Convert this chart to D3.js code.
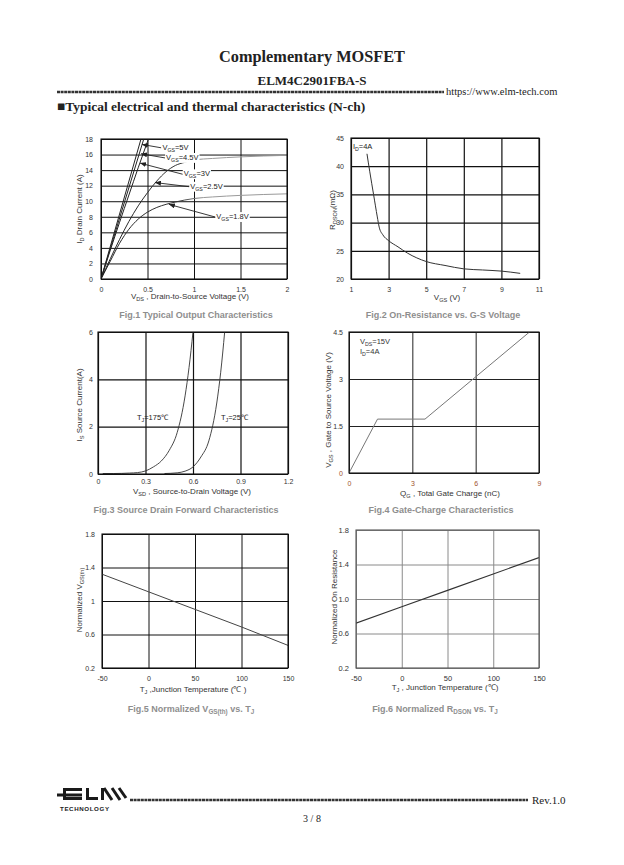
<!DOCTYPE html>
<html><head><meta charset="utf-8">
<script src="https://cdn.jsdelivr.net/npm/d3@7/dist/d3.min.js"></script>
<style>body{margin:0;background:#fff}svg{display:block}</style>
</head><body>
<svg id="c" width="624" height="865"></svg>
<script>
// ---------------- DATA ----------------
// Fig.1 output characteristics (VDS V, ID A)
const f1Vgs5X = [0, 0.43];            const f1Vgs5Y = [0, 18];
const f1Vgs45X = [0, 0.46];           const f1Vgs45Y = [0, 18];
const f1Vgs3X = [0, 0.1, 0.2, 0.3, 0.4, 0.51];
const f1Vgs3Y = [0, 3.7, 7.3, 10.8, 14.3, 18];
const f1Vgs25X = [0, 0.1, 0.2, 0.3, 0.4, 0.5, 0.6, 0.7, 0.8, 0.9, 1.0, 1.2, 1.5, 2.0];
const f1Vgs25Y = [0, 2.6, 5.1, 7.4, 9.4, 11.1, 12.6, 13.8, 14.6, 15.0, 15.3, 15.5, 15.7, 15.9];
const f1Vgs18X = [0, 0.1, 0.2, 0.3, 0.4, 0.5, 0.6, 0.7, 0.8, 1.0, 1.2, 1.5, 2.0];
const f1Vgs18Y = [0, 2.3, 4.6, 6.4, 7.7, 8.6, 9.2, 9.6, 9.9, 10.35, 10.55, 10.75, 10.95];
const f1Labels = ["V_{GS}=5V", "V_{GS}=4.5V", "V_{GS}=3V", "V_{GS}=2.5V", "V_{GS}=1.8V"];
const f1LabelX = [0.66, 0.70, 0.89, 0.96, 1.24];
const f1LabelY = [16.6, 15.3, 13.2, 11.6, 7.7];
const f1TipX = [0.44, 0.43, 0.42, 0.58, 0.73];
const f1TipY = [17.3, 16.1, 14.9, 12.4, 9.6];
const f1XTicks = [0, 0.5, 1, 1.5, 2];
const f1YTicks = [0, 2, 4, 6, 8, 10, 12, 14, 16, 18];

// Fig.2 RDSON vs VGS
const f2X = [1.85, 2.0, 2.2, 2.4, 2.5, 2.7, 3.0, 3.5, 4, 5, 6, 7, 8, 9, 10];
const f2Y = [42.2, 39, 35, 31, 29.2, 27.8, 26.8, 25.7, 24.6, 23.1, 22.4, 21.8, 21.6, 21.4, 21.0];
const f2XTicks = [1, 3, 5, 7, 9, 11];
const f2YTicks = [20, 25, 30, 35, 40, 45];

// Fig.3 source-drain forward
const f3T175X = [0.03, 0.1, 0.2, 0.25, 0.3, 0.35, 0.4, 0.45, 0.5, 0.55, 0.575, 0.6];
const f3T175Y = [0.02, 0.02, 0.04, 0.06, 0.13, 0.3, 0.55, 1.0, 1.75, 3.3, 4.5, 6.0];
const f3T25X = [0.42, 0.5, 0.55, 0.6, 0.65, 0.7, 0.75, 0.775, 0.8];
const f3T25Y = [0.02, 0.05, 0.12, 0.3, 0.72, 1.4, 3.0, 4.3, 6.0];
const f3XTicks = [0, 0.3, 0.6, 0.9, 1.2];
const f3YTicks = [0, 2, 4, 6];

// Fig.4 gate charge
const f4X = [0, 1.35, 3.6, 8.55];
const f4Y = [0, 1.72, 1.72, 4.5];
const f4XTicks = [0, 3, 6, 9];
const f4YTicks = [0, 1.5, 3, 4.5];

// Fig.5 normalized VGS(th)
const f5X = [-50, 0, 50, 100, 150];
const f5Y = [1.32, 1.11, 0.9, 0.69, 0.47];
// Fig.6 normalized RDSON
const f6X = [-50, 0, 50, 100, 150];
const f6Y = [0.72, 0.91, 1.1, 1.29, 1.48];
const tempTicks = [-50, 0, 50, 100, 150];
const normTicks = [0.2, 0.6, 1.0, 1.4, 1.8];

// ---------------- DRAWING ----------------
const SANS = "'Liberation Sans', Arial, sans-serif";
const SERIF = "'Liberation Serif', 'Times New Roman', serif";
const svg = d3.select('#c');
svg.append('rect').attr('width', 624).attr('height', 865).attr('fill', '#fff');
const defs = svg.append('defs');
defs.append('marker').attr('id', 'arr').attr('markerUnits', 'userSpaceOnUse')
  .attr('markerWidth', 6).attr('markerHeight', 5).attr('refX', 6).attr('refY', 2.5)
  .attr('orient', 'auto')
  .append('path').attr('d', 'M0,0 L6,2.5 L0,5 Z').attr('fill', '#222');

function rich(t, str, fs) {
  const parts = str.split(/(_\{[^}]*\})/);
  let pending = 0;
  parts.forEach(p => {
    if (!p) return;
    if (p.startsWith('_{')) {
      t.append('tspan').attr('font-size', fs * 0.7).attr('dy', fs * 0.25).text(p.slice(2, -1));
      pending = -fs * 0.25;
    } else {
      const s = t.append('tspan').text(p);
      if (pending) { s.attr('dy', pending); pending = 0; }
    }
  });
  return t;
}

function zip(xs, ys) { return xs.map((v, i) => [v, ys[i]]); }

function makeChart(o) {
  const g = svg.append('g');
  const x = d3.scaleLinear().domain(o.xd).range([o.l, o.r]);
  const y = d3.scaleLinear().domain(o.yd).range([o.b, o.t]);
  defs.append('clipPath').attr('id', 'clip' + o.id).append('rect')
    .attr('x', o.l).attr('y', o.t).attr('width', o.r - o.l).attr('height', o.b - o.t);
  const fmt = o.fmt || (d => String(d));
  const xa = g.append('g').attr('transform', `translate(0,${o.b})`)
    .call(d3.axisBottom(x).tickValues(o.xt).tickSize(-(o.b - o.t)).tickPadding(o.xpad || 8).tickFormat(o.xfmt || fmt));
  const ya = g.append('g').attr('transform', `translate(${o.l},0)`)
    .call(d3.axisLeft(y).tickValues(o.yt).tickSize(-(o.r - o.l)).tickPadding(o.ypad || 6).tickFormat(o.yfmt || fmt));
  [xa, ya].forEach(a => {
    a.select('.domain').remove();
    a.selectAll('line').attr('stroke', o.grid || '#111').attr('stroke-width', o.gw || 1);
    a.selectAll('text').attr('font-family', SANS).attr('font-size', o.tfs || 7).attr('fill', o.tickColor || '#333');
  });
  const body = g.append('g').attr('clip-path', `url(#clip${o.id})`);
  const frame = () => g.append('rect').attr('x', o.l).attr('y', o.t).attr('width', o.r - o.l).attr('height', o.b - o.t)
    .attr('fill', 'none').attr('stroke', o.frame || '#111').attr('stroke-width', o.fw || 1.1);
  // axis titles
  rich(g.append('text').attr('x', o.xtx).attr('y', o.xty).attr('text-anchor', 'middle')
    .attr('font-family', SANS).attr('font-size', 8).attr('fill', '#333'), o.xtitle, 8);
  rich(g.append('text').attr('transform', `translate(${o.ytx},${o.yty}) rotate(-90)`).attr('text-anchor', 'middle')
    .attr('font-family', SANS).attr('font-size', 8).attr('fill', '#333'), o.ytitle, 8);
  rich(g.append('text').attr('x', o.cx).attr('y', o.cy).attr('text-anchor', 'middle')
    .attr('font-family', SANS).attr('font-size', 9).attr('font-weight', 'bold').attr('fill', '#8e8e8e'), o.caption, 9);
  return { g, x, y, body, frame, xa, ya };
}

// ---- Header ----
svg.append('text').attr('x', 312).attr('y', 62).attr('text-anchor', 'middle').attr('font-family', SERIF)
  .attr('font-weight', 'bold').attr('font-size', 16.3).attr('fill', '#222').text('Complementary MOSFET');
svg.append('text').attr('x', 312).attr('y', 85).attr('text-anchor', 'middle').attr('font-family', SERIF)
  .attr('font-weight', 'bold').attr('font-size', 13).attr('fill', '#222').text('ELM4C2901FBA-S');
svg.append('line').attr('x1', 57).attr('x2', 444).attr('y1', 92).attr('y2', 92)
  .attr('stroke', '#333').attr('stroke-width', 2.4).attr('stroke-dasharray', '3 0.6');
svg.append('text').attr('x', 446).attr('y', 95).attr('font-family', SERIF).attr('font-size', 10.5)
  .attr('fill', '#222').text('https://www.elm-tech.com');
svg.append('text').attr('x', 57).attr('y', 111).attr('font-family', SERIF).attr('font-weight', 'bold')
  .attr('font-size', 13.5).attr('fill', '#222').text('■Typical electrical and thermal characteristics (N-ch)');

// ---- Fig.1 ----
{
  const c = makeChart({ id: 1, l: 101, r: 287, t: 139, b: 279, xd: [0, 2], yd: [0, 18], xt: f1XTicks, yt: f1YTicks,
    xpad: 8, ypad: 8, xtx: 190, xty: 299, xtitle: 'V_{DS} , Drain-to-Source Voltage (V)',
    ytx: 82, yty: 209, ytitle: 'I_{D} Drain Current (A)', cx: 196, cy: 318, caption: 'Fig.1 Typical Output Characteristics' });
  const grad = defs.append('linearGradient').attr('id', 'fade1').attr('gradientUnits', 'userSpaceOnUse')
    .attr('x1', c.x(0)).attr('x2', c.x(2)).attr('y1', 0).attr('y2', 0);
  grad.append('stop').attr('offset', 0).attr('stop-color', '#222');
  grad.append('stop').attr('offset', 0.42).attr('stop-color', '#333');
  grad.append('stop').attr('offset', 0.55).attr('stop-color', '#999');
  grad.append('stop').attr('offset', 1).attr('stop-color', '#999');
  const line = d3.line().x(d => c.x(d[0])).y(d => c.y(d[1])).curve(d3.curveMonotoneX);
  const lin = d3.line().x(d => c.x(d[0])).y(d => c.y(d[1]));
  [[f1Vgs5X, f1Vgs5Y], [f1Vgs45X, f1Vgs45Y]].forEach(s =>
    c.body.append('path').attr('d', lin(zip(s[0], s[1]))).attr('fill', 'none').attr('stroke', '#222').attr('stroke-width', 1));
  c.body.append('path').attr('d', line(zip(f1Vgs3X, f1Vgs3Y))).attr('fill', 'none').attr('stroke', '#222').attr('stroke-width', 1);
  [[f1Vgs25X, f1Vgs25Y], [f1Vgs18X, f1Vgs18Y]].forEach(s =>
    c.body.append('path').attr('d', line(zip(s[0], s[1]))).attr('fill', 'none').attr('stroke', 'url(#fade1)').attr('stroke-width', 1));
  f1Labels.forEach((lab, i) => {
    const lg = c.g.append('g');
    const t = rich(lg.append('text').attr('x', c.x(f1LabelX[i])).attr('y', c.y(f1LabelY[i]))
      .attr('font-family', SANS).attr('font-size', 7.5).attr('fill', '#222'), lab, 7.5);
    const bb = t.node().getBBox();
    lg.insert('rect', 'text').attr('x', bb.x - 1).attr('y', bb.y).attr('width', bb.width + 2).attr('height', bb.height)
      .attr('fill', '#fff');
    lg.insert('line', 'rect').attr('x1', bb.x - 1).attr('y1', bb.y + bb.height * 0.5)
      .attr('x2', c.x(f1TipX[i])).attr('y2', c.y(f1TipY[i])).attr('stroke', '#222').attr('stroke-width', 0.9)
      .attr('marker-end', 'url(#arr)');
  });
  c.frame();
}

// ---- Fig.2 ----
{
  const c = makeChart({ id: 2, l: 351, r: 539, t: 138, b: 279, xd: [1, 11], yd: [20, 45], xt: f2XTicks, yt: f2YTicks,
    xpad: 8, ypad: 7, gw: 1.2, xtx: 447, xty: 300, xtitle: 'V_{GS} (V)',
    ytx: 335, yty: 210, ytitle: 'R_{DSON}(mΩ)', cx: 443, cy: 318, caption: 'Fig.2 On-Resistance vs. G-S Voltage' });
  const line = d3.line().x(d => c.x(d[0])).y(d => c.y(d[1])).curve(d3.curveMonotoneX);
  c.body.append('path').attr('d', line(zip(f2X, f2Y))).attr('fill', 'none').attr('stroke', '#333').attr('stroke-width', 1);
  rich(c.g.append('text').attr('x', c.x(1.1)).attr('y', c.y(43.05)).attr('font-family', SANS)
    .attr('font-size', 7.5).attr('fill', '#222'), 'I_{D}=4A', 7.5);
  c.frame();
}

// ---- Fig.3 ----
{
  const c = makeChart({ id: 3, l: 98, r: 288, t: 332, b: 474, xd: [0, 1.2], yd: [0, 6], xt: f3XTicks, yt: f3YTicks,
    xpad: 5, ypad: 5, gw: 1.2, xtx: 192, xty: 494, xtitle: 'V_{SD} , Source-to-Drain Voltage (V)',
    ytx: 82, yty: 405, ytitle: 'I_{S} Source Current(A)', cx: 186, cy: 513, caption: 'Fig.3 Source Drain Forward Characteristics' });
  const line = d3.line().x(d => c.x(d[0])).y(d => c.y(d[1])).curve(d3.curveMonotoneX);
  [[f3T175X, f3T175Y], [f3T25X, f3T25Y]].forEach(s =>
    c.body.append('path').attr('d', line(zip(s[0], s[1]))).attr('fill', 'none').attr('stroke', '#333').attr('stroke-width', 0.9));
  rich(c.g.append('text').attr('x', c.x(0.246)).attr('y', c.y(2.28)).attr('font-family', SANS)
    .attr('font-size', 7.5).attr('fill', '#222'), 'T_{J}=175℃', 7.5);
  rich(c.g.append('text').attr('x', c.x(0.777)).attr('y', c.y(2.28)).attr('font-family', SANS)
    .attr('font-size', 7.5).attr('fill', '#222'), 'T_{J}=25℃', 7.5);
  c.frame();
}

// ---- Fig.4 ----
{
  const c = makeChart({ id: 4, l: 349, r: 539, t: 332, b: 473, xd: [0, 9], yd: [0, 4.5], xt: f4XTicks, yt: f4YTicks,
    xpad: 8, ypad: 6, grid: '#222', xtx: 450, xty: 496, xtitle: 'Q_{G} , Total Gate Charge (nC)',
    ytx: 331, yty: 410, ytitle: 'V_{GS} , Gate to Source Voltage (V)', cx: 441, cy: 513, caption: 'Fig.4 Gate-Charge Characteristics' });
  c.xa.selectAll('text').attr('fill', '#a0522d');
  c.ya.selectAll('text').filter(d => d === 0).attr('fill', '#a0522d');
  const lin = d3.line().x(d => c.x(d[0])).y(d => c.y(d[1]));
  c.body.append('path').attr('d', lin(zip(f4X, f4Y))).attr('fill', 'none').attr('stroke', '#777').attr('stroke-width', 1);
  rich(c.g.append('text').attr('x', c.x(0.52)).attr('y', c.y(4.12)).attr('font-family', SANS)
    .attr('font-size', 7.5).attr('fill', '#333'), 'V_{DS}=15V', 7.5);
  rich(c.g.append('text').attr('x', c.x(0.52)).attr('y', c.y(3.8)).attr('font-family', SANS)
    .attr('font-size', 7.5).attr('fill', '#333'), 'I_{D}=4A', 7.5);
  c.frame();
}

// ---- Fig.5 ----
{
  const c = makeChart({ id: 5, l: 102, r: 288, t: 534, b: 668, xd: [-50, 150], yd: [0.2, 1.8], xt: tempTicks, yt: normTicks,
    xpad: 8, ypad: 7, yfmt: d3.format('~g'), xtx: 193, xty: 692, xtitle: 'T_{J} ,Junction Temperature (℃ )',
    ytx: 82, yty: 600, ytitle: 'Normalized V_{GS(th)}', cx: 191, cy: 712, caption: 'Fig.5 Normalized V_{GS(th)} vs. T_{J}' });
  const lin = d3.line().x(d => c.x(d[0])).y(d => c.y(d[1]));
  c.body.append('path').attr('d', lin(zip(f5X, f5Y))).attr('fill', 'none').attr('stroke', '#444').attr('stroke-width', 1);
  c.frame();
}

// ---- Fig.6 ----
{
  const c = makeChart({ id: 6, l: 356, r: 539, t: 530, b: 668, xd: [-50, 150], yd: [0.2, 1.8], xt: tempTicks, yt: normTicks,
    xpad: 8, ypad: 7, yfmt: d3.format('.1f'), grid: '#8a8a8a', frame: '#555', tfs: 7.5,
    xtx: 445, xty: 690, xtitle: 'T_{J} , Junction Temperature (℃)',
    ytx: 337, yty: 597, ytitle: 'Normalized On Resistance', cx: 435, cy: 712, caption: 'Fig.6 Normalized R_{DSON} vs. T_{J}' });
  const lin = d3.line().x(d => c.x(d[0])).y(d => c.y(d[1]));
  c.body.append('path').attr('d', lin(zip(f6X, f6Y))).attr('fill', 'none').attr('stroke', '#333').attr('stroke-width', 1.1);
  c.frame();
}

// ---- Footer ----
{
  const lg = svg.append('g').attr('fill', '#1a1a1a');
  const rects = [[63, 788, 3, 12], [63, 788, 19, 3], [57, 793.5, 25, 3], [63, 797, 19, 3],
                 [86, 788, 3, 12], [86, 797, 12, 3], [101, 788, 3, 12]];
  rects.forEach(r => lg.append('rect').attr('x', r[0]).attr('y', r[1]).attr('width', r[2]).attr('height', r[3]));
  [[104, 788, 112, 800], [112, 788, 120, 800], [119, 788, 126, 798]].forEach(s =>
    svg.append('line').attr('x1', s[0]).attr('y1', s[1]).attr('x2', s[2]).attr('y2', s[3])
      .attr('stroke', '#1a1a1a').attr('stroke-width', 3));
  svg.append('text').attr('x', 60).attr('y', 811).attr('font-family', SANS).attr('font-weight', 'bold')
    .attr('font-size', 6.2).attr('letter-spacing', 0.6).attr('fill', '#222').text('TECHNOLOGY');
  svg.append('line').attr('x1', 130).attr('x2', 528).attr('y1', 800).attr('y2', 800)
    .attr('stroke', '#333').attr('stroke-width', 2.4).attr('stroke-dasharray', '3 0.6');
  svg.append('text').attr('x', 532).attr('y', 804).attr('font-family', SERIF).attr('font-size', 11)
    .attr('fill', '#222').text('Rev.1.0');
  svg.append('text').attr('x', 312).attr('y', 822).attr('text-anchor', 'middle').attr('font-family', SERIF)
    .attr('font-size', 10).attr('fill', '#222').text('3 / 8');
}
</script>
</body></html>
